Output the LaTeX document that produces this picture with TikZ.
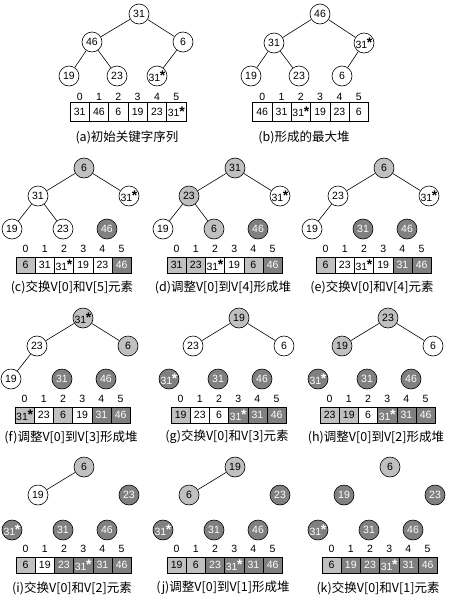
\documentclass[tikz,border=0pt]{standalone}
\usepackage{fontspec}
\setmainfont{Liberation Sans}
\newfontfamily\cjk{Noto Sans CJK SC}
\usepackage{tikz}
\definecolor{heaplight}{HTML}{C0C0C0}
\definecolor{heapdark}{HTML}{808080}
\newcommand{\starmark}{\kern-0.3pt\raisebox{0.05em}{\fontsize{14}{14}\selectfont\bfseries*}}

\tikzset{
  heapnode/.style={circle, draw, minimum size=20pt, inner sep=0pt, font=\fontsize{10.5}{10.5}\selectfont},
  wnode/.style={heapnode, fill=white},
  gnode/.style={heapnode, fill=heaplight},
  dnode/.style={heapnode, fill=heapdark, text=white},
  arrcell/.style={rectangle, draw, minimum width=19.2pt, minimum height=16pt, inner sep=0pt, font=\fontsize{10.5}{10.5}\selectfont},
  wcell/.style={arrcell, fill=white},
  gcell/.style={arrcell, fill=heaplight},
  dcell/.style={arrcell, fill=heapdark, text=white},
  idx/.style={font=\fontsize{10.5}{10.5}\selectfont},
  caption/.style={font=\cjk\fontsize{12.5}{12.5}\selectfont}
}

\begin{document}
\begin{tikzpicture}[x=1pt, y=-1pt, line width=0.6pt]
  \fill[white] (0,0) rectangle (463,600);
  \useasboundingbox (0,0) rectangle (463,600);

  % (a) initial sequence
  \node[wnode] (a0) at (139,14) {31};
  \node[wnode] (a1) at (92,42) {46};
  \node[wnode] (a2) at (183,42) {6};
  \node[wnode] (a3) at (69,76) {19};
  \node[wnode] (a4) at (117,76) {23};
  \node[wnode] (a5) at (157,76) {31\starmark};
  \draw (a0) -- (a1); \draw (a0) -- (a2);
  \draw (a1) -- (a3); \draw (a1) -- (a4); \draw (a2) -- (a5);
  \foreach \i/\v in {0/31,1/46,2/6,3/19,4/23,5/31\starmark}
    \node[wcell, minimum width=19.33pt, minimum height=19pt] (av\i) at (79.67+19.33*\i,111.5) {\v};
  \foreach \i in {0,...,5}
    \node[idx] (ai\i) at (79.67+19.33*\i,96.5) {\i};
  \node[caption] (acap) at (127,137) {(a)初始关键字序列};

  % (b) max heap
  \node[wnode] (b0) at (320,14) {46};
  \node[wnode] (b1) at (274,43) {31};
  \node[wnode] (b2) at (364,43) {31\starmark};
  \node[wnode] (b3) at (251,76) {19};
  \node[wnode] (b4) at (299,76) {23};
  \node[wnode] (b5) at (342,76) {6};
  \draw (b0) -- (b1); \draw (b0) -- (b2);
  \draw (b1) -- (b3); \draw (b1) -- (b4); \draw (b2) -- (b5);
  \foreach \i/\v in {0/46,1/31,2/31\starmark,3/19,4/23,5/6}
    \node[wcell, minimum width=19.33pt, minimum height=19pt] (bv\i) at (262.17+19.33*\i,111.5) {\v};
  \foreach \i in {0,...,5}
    \node[idx] (bi\i) at (262.17+19.33*\i,96.5) {\i};
  \node[caption] (bcap) at (304,137) {(b)形成的最大堆};

  % (c)
  \begin{scope}[shift={(0,150)}]
    \node[gnode] (c0) at (84,18) {6};
    \node[wnode] (c1) at (38,46) {31};
    \node[wnode] (c2) at (129,46) {31\starmark};
    \node[wnode] (c3) at (12,79) {19};
    \node[wnode] (c4) at (63,79) {23};
    \node[dnode] (c5) at (107,79) {46};
    \draw (c0) -- (c1); \draw (c0) -- (c2);
    \draw (c1) -- (c3); \draw (c1) -- (c4);
    \foreach \i/\v/\s in {0/6/gcell,1/31/wcell,2/31\starmark/wcell,3/19/wcell,4/23/wcell,5/46/dcell}
      \node[\s] (cv\i) at (25.6+19.2*\i,115) {\v};
    \foreach \i in {0,...,5}
      \node[idx] (ci\i) at (25.6+19.2*\i,99) {\i};
    \node[caption] (ccap) at (72,137) {(c)交换V[0]和V[5]元素};
  \end{scope}

  % (d)
  \begin{scope}[shift={(151,150)}]
    \node[gnode] (d0) at (84,18) {31};
    \node[gnode] (d1) at (38,46) {23};
    \node[wnode] (d2) at (129,46) {31\starmark};
    \node[wnode] (d3) at (12,79) {19};
    \node[gnode] (d4) at (63,79) {6};
    \node[dnode] (d5) at (107,79) {46};
    \draw (d0) -- (d1); \draw (d0) -- (d2);
    \draw (d1) -- (d3); \draw (d1) -- (d4);
    \foreach \i/\v/\s in {0/31/gcell,1/23/gcell,2/31\starmark/wcell,3/19/wcell,4/6/gcell,5/46/dcell}
      \node[\s] (dv\i) at (25.6+19.2*\i,115) {\v};
    \foreach \i in {0,...,5}
      \node[idx] (di\i) at (25.6+19.2*\i,99) {\i};
    \node[caption] (dcap) at (72,137) {(d)调整V[0]到V[4]形成堆};
  \end{scope}

  % (e)
  \begin{scope}[shift={(300,150)}]
    \node[gnode] (e0) at (84,18) {6};
    \node[wnode] (e1) at (38,46) {23};
    \node[wnode] (e2) at (129,46) {31\starmark};
    \node[wnode] (e3) at (12,79) {19};
    \node[dnode] (e4) at (63,79) {31};
    \node[dnode] (e5) at (107,79) {46};
    \draw (e0) -- (e1); \draw (e0) -- (e2);
    \draw (e1) -- (e3);
    \foreach \i/\v/\s in {0/6/gcell,1/23/wcell,2/31\starmark/wcell,3/19/wcell,4/31/dcell,5/46/dcell}
      \node[\s] (ev\i) at (25.6+19.2*\i,115) {\v};
    \foreach \i in {0,...,5}
      \node[idx] (ei\i) at (25.6+19.2*\i,99) {\i};
    \node[caption] (ecap) at (72,137) {(e)交换V[0]和V[4]元素};
  \end{scope}

  % (f)
  \begin{scope}[shift={(-1,300)}]
    \node[gnode] (f0) at (84,18) {31\starmark};
    \node[wnode] (f1) at (38,46) {23};
    \node[gnode] (f2) at (129,46) {6};
    \node[wnode] (f3) at (12,79) {19};
    \node[dnode] (f4) at (63,79) {31};
    \node[dnode] (f5) at (107,79) {46};
    \draw (f0) -- (f1); \draw (f0) -- (f2);
    \draw (f1) -- (f3);
    \foreach \i/\v/\s in {0/31\starmark/gcell,1/23/wcell,2/6/gcell,3/19/wcell,4/31/dcell,5/46/dcell}
      \node[\s] (fv\i) at (25.6+19.2*\i,115) {\v};
    \foreach \i in {0,...,5}
      \node[idx] (fi\i) at (25.6+19.2*\i,99) {\i};
    \node[caption] (fcap) at (72,137) {(f)调整V[0]到V[3]形成堆};
  \end{scope}

  % (g)
  \begin{scope}[shift={(155,300)}]
    \node[gnode] (g0) at (84,18) {19};
    \node[wnode] (g1) at (38,46) {23};
    \node[wnode] (g2) at (129,46) {6};
    \node[dnode] (g3) at (14,79) {31\starmark};
    \node[dnode] (g4) at (63,79) {31};
    \node[dnode] (g5) at (107,79) {46};
    \draw (g0) -- (g1); \draw (g0) -- (g2);
    \foreach \i/\v/\s in {0/19/gcell,1/23/wcell,2/6/wcell,3/31\starmark/dcell,4/31/dcell,5/46/dcell}
      \node[\s] (gv\i) at (25.6+19.2*\i,115) {\v};
    \foreach \i in {0,...,5}
      \node[idx] (gi\i) at (25.6+19.2*\i,99) {\i};
    \node[caption] (gcap) at (72,137) {(g)交换V[0]和V[3]元素};
  \end{scope}

  % (h)
  \begin{scope}[shift={(304,300)}]
    \node[gnode] (h0) at (84,18) {23};
    \node[gnode] (h1) at (38,46) {19};
    \node[wnode] (h2) at (129,46) {6};
    \node[dnode] (h3) at (14,79) {31\starmark};
    \node[dnode] (h4) at (63,79) {31};
    \node[dnode] (h5) at (107,79) {46};
    \draw (h0) -- (h1); \draw (h0) -- (h2);
    \foreach \i/\v/\s in {0/23/gcell,1/19/gcell,2/6/wcell,3/31\starmark/dcell,4/31/dcell,5/46/dcell}
      \node[\s] (hv\i) at (25.6+19.2*\i,115) {\v};
    \foreach \i in {0,...,5}
      \node[idx] (hi\i) at (25.6+19.2*\i,99) {\i};
    \node[caption] (hcap) at (72,137) {(h)调整V[0]到V[2]形成堆};
  \end{scope}

  % (i)
  \begin{scope}[shift={(0,450)}]
    \node[gnode] (i0) at (84,17) {6};
    \node[wnode] (i1) at (38,45) {19};
    \node[dnode] (i2) at (129,45) {23};
    \node[dnode] (i3) at (12,80) {31\starmark};
    \node[dnode] (i4) at (63,80) {31};
    \node[dnode] (i5) at (107,80) {46};
    \draw (i0) -- (i1);
    \foreach \i/\v/\s in {0/6/gcell,1/19/wcell,2/23/dcell,3/31\starmark/dcell,4/31/dcell,5/46/dcell}
      \node[\s] (iv\i) at (25.6+19.2*\i,115) {\v};
    \foreach \i in {0,...,5}
      \node[idx] (ii\i) at (25.6+19.2*\i,99) {\i};
    \node[caption] (icap) at (72,138) {(i)交换V[0]和V[2]元素};
  \end{scope}

  % (j)
  \begin{scope}[shift={(151,450)}]
    \node[gnode] (j0) at (84,17) {19};
    \node[gnode] (j1) at (38,45) {6};
    \node[dnode] (j2) at (129,45) {23};
    \node[dnode] (j3) at (12,80) {31\starmark};
    \node[dnode] (j4) at (63,80) {31};
    \node[dnode] (j5) at (107,80) {46};
    \draw (j0) -- (j1);
    \foreach \i/\v/\s in {0/19/gcell,1/6/gcell,2/23/dcell,3/31\starmark/dcell,4/31/dcell,5/46/dcell}
      \node[\s] (jv\i) at (25.6+19.2*\i,115) {\v};
    \foreach \i in {0,...,5}
      \node[idx] (ji\i) at (25.6+19.2*\i,99) {\i};
    \node[caption] (jcap) at (72,138) {(j)调整V[0]到V[1]形成堆};
  \end{scope}

  % (k)
  \begin{scope}[shift={(306,450)}]
    \node[gnode] (k0) at (84,17) {6};
    \node[dnode] (k1) at (38,45) {19};
    \node[dnode] (k2) at (129,45) {23};
    \node[dnode] (k3) at (12,80) {31\starmark};
    \node[dnode] (k4) at (63,80) {31};
    \node[dnode] (k5) at (107,80) {46};
    \foreach \i/\v/\s in {0/6/gcell,1/19/dcell,2/23/dcell,3/31\starmark/dcell,4/31/dcell,5/46/dcell}
      \node[\s] (kv\i) at (25.6+19.2*\i,115) {\v};
    \foreach \i in {0,...,5}
      \node[idx] (ki\i) at (25.6+19.2*\i,99) {\i};
    \node[caption] (kcap) at (72,138) {(k)交换V[0]和V[1]元素};
  \end{scope}
\end{tikzpicture}
\end{document}
